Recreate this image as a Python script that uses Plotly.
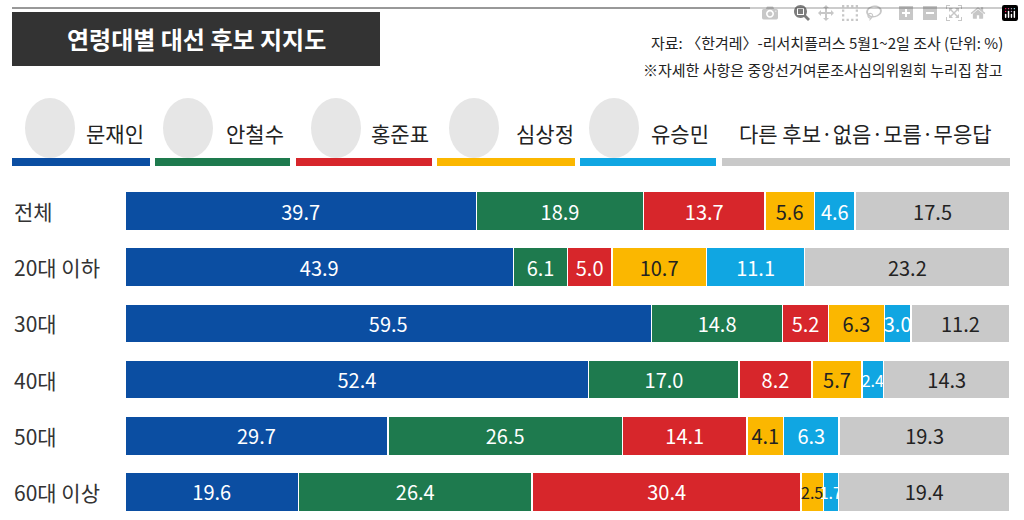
import plotly.graph_objects as go

groups = ['전체', '20대 이하', '30대', '40대', '50대', '60대 이상']
candidates = ['문재인', '안철수', '홍준표', '심상정', '유승민', '다른 후보·없음·모름·무응답']
colors = ['#0b4ea2', '#1e7a4e', '#d7262b', '#fbb700', '#10a6e2', '#c9c9c9']
text_colors = ['white', 'white', 'white', '#222', 'white', '#222']
values = [
    [39.7, 43.9, 59.5, 52.4, 29.7, 19.6],
    [18.9, 6.1, 14.8, 17.0, 26.5, 26.4],
    [13.7, 5.0, 5.2, 8.2, 14.1, 30.4],
    [5.6, 10.7, 6.3, 5.7, 4.1, 2.5],
    [4.6, 11.1, 3.0, 2.4, 6.3, 1.7],
    [17.5, 23.2, 11.2, 14.3, 19.3, 19.4],
]

FONT = 'Noto Sans CJK KR'
fig = go.Figure()
for name, vals, c, tc in zip(candidates, values, colors, text_colors):
    fig.add_trace(go.Bar(
        y=groups, x=vals, orientation='h', name=name,
        marker=dict(color=c, line=dict(color='white', width=1.5)),
        text=[f'{v:.1f}' for v in vals], textposition='inside',
        insidetextanchor='middle', textangle=0, constraintext='none',
        textfont=dict(color=tc, size=[20 if v >= 3 else 16 for v in vals], family=FONT),
    ))

W, L, R = 1024, 125, 14
pw = W - L - R
top, H = 183, 520


def px(x):
    return (x - L) / pw


def py(y):
    return (H - y) / (H - top)


shapes = [
    dict(type='line', xref='paper', yref='paper', x0=px(12), x1=px(1010), y0=py(8), y1=py(8),
         line=dict(color='#333', width=1)),
    dict(type='rect', xref='paper', yref='paper', x0=px(12), x1=px(380), y0=py(66), y1=py(12),
         fillcolor='#333333', line=dict(width=0)),
]
strips = [(12, 150), (155, 290), (296, 432), (437, 575), (580, 716), (722, 1010)]
for (a, b), c in zip(strips, colors):
    shapes.append(dict(type='rect', xref='paper', yref='paper', x0=px(a), x1=px(b),
                       y0=py(166), y1=py(158), fillcolor=c, line=dict(width=0)))
# placeholder portraits
for cx in [50, 188, 336, 474, 614]:
    shapes.append(dict(type='circle', xref='paper', yref='paper', x0=px(cx - 25), x1=px(cx + 25),
                       y0=py(158), y1=py(98), fillcolor='#e6e6e6', line=dict(width=0), layer='below'))

ann = [
    dict(text='<b>연령대별 대선 후보 지지도</b>', x=px(196), y=py(39), font=dict(size=24, color='white', family=FONT)),
    dict(text='자료: 〈한겨레〉-리서치플러스 5월1~2일 조사 (단위: %)', x=px(1005), y=py(42), xanchor='right',
         font=dict(size=15, color='#222', family=FONT)),
    dict(text='※자세한 사항은 중앙선거여론조사심의위원회 누리집 참고', x=px(1005), y=py(69), xanchor='right',
         font=dict(size=15, color='#222', family=FONT)),
]
name_x = [115, 255, 400, 545, 680, 865]
for n, x in zip(candidates, name_x):
    ann.append(dict(text=n, x=px(x), y=py(133), font=dict(size=21, color='#222', family=FONT)))
for g in groups:
    ann.append(dict(text=g, x=px(12), y=g, yref='y', xanchor='left',
                    font=dict(size=21, color='#333', family=FONT)))
for a in ann:
    a.setdefault('xref', 'paper')
    a.setdefault('yref', 'paper')
    a.setdefault('xanchor', 'center')
    a['yanchor'] = 'middle'
    a['showarrow'] = False

fig.update_layout(
    width=W, height=H, barmode='stack', bargap=0.3, showlegend=False,
    margin=dict(l=L, r=R, t=top, b=0), plot_bgcolor='white', paper_bgcolor='white',
    xaxis=dict(range=[0, 100], visible=False),
    yaxis=dict(autorange='reversed', visible=False),
    shapes=shapes, annotations=ann, font=dict(family=FONT),
)
fig.write_html('out.html', post_script="document.body.style.margin='0';")
